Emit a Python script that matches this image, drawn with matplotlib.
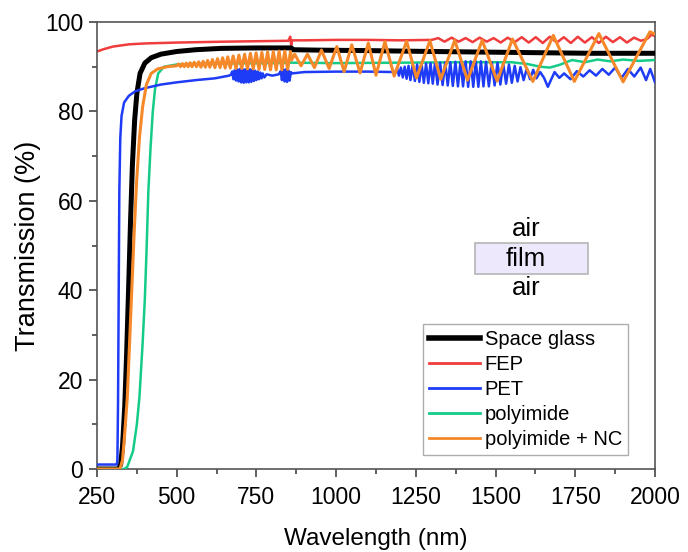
import matplotlib
matplotlib.use("Agg")
import matplotlib.pyplot as plt
from matplotlib.ticker import MultipleLocator
from matplotlib.patches import Rectangle
from matplotlib.lines import Line2D

plt.rcParams['font.family'] = ['Liberation Sans', 'DejaVu Sans']

# ---------------- data ----------------
glass_wl = [250, 318, 324, 330, 337, 343, 349, 355, 361, 368, 375, 385, 400, 420, 450, 500,
            560, 640, 750, 860, 862, 950, 1100, 1300, 1550, 1800, 2000]
glass_T = [0.0, 0.0, 1.0, 5.0, 14.0, 26.0, 40.0, 55.0, 68.0, 78.0, 84.0, 88.5, 90.8, 92.0,
           92.8, 93.4, 93.8, 94.1, 94.2, 94.2, 93.8, 93.7, 93.6, 93.4, 93.2, 93.0, 93.0]

fep_wl = [250, 270, 300, 350, 400, 500, 650, 850, 856, 859, 862, 900, 1000, 1100, 1200, 1300,
          1320, 1340, 1362, 1384, 1406, 1428, 1450, 1472, 1494, 1516, 1538, 1560, 1582, 1604,
          1626, 1648, 1670, 1692, 1714, 1736, 1758, 1780, 1802, 1824, 1846, 1868, 1890, 1912,
          1934, 1956, 1975, 1990, 2000]
fep_T = [93.4, 93.9, 94.5, 95.0, 95.2, 95.4, 95.6, 95.8, 96.7, 94.8, 95.9, 95.9, 96.0, 96.0,
         95.9, 96.0, 96.4, 95.6, 96.5, 95.6, 96.4, 95.5, 96.5, 95.6, 96.4, 95.4, 96.5, 95.5,
         96.6, 95.4, 96.6, 95.3, 96.7, 95.4, 96.6, 95.3, 96.7, 95.4, 96.6, 95.3, 96.7, 95.5,
         96.6, 95.4, 96.5, 95.8, 96.2, 97.2, 96.8]

pet_wl = [250, 312, 314, 316, 318, 320, 323, 327, 335, 350, 370, 400, 450, 500, 560, 620, 664,
          670, 674, 678, 682, 686, 690, 694, 698, 702, 706, 710, 714, 718, 722, 726, 730, 734,
          738, 742, 746, 750, 754, 758, 762, 766, 770, 775, 782, 800, 820, 826, 830, 834, 838,
          842, 846, 850, 854, 858, 862, 900, 1000, 1100, 1185,
          1191, 1197, 1203, 1209, 1215, 1221, 1227, 1233, 1240, 1247, 1254, 1261, 1268, 1275,
          1282, 1289, 1296, 1303, 1310, 1318, 1326, 1334, 1342, 1350, 1358, 1366, 1374, 1382,
          1390, 1398, 1406, 1414, 1422, 1430, 1438, 1446, 1454, 1462, 1470, 1479, 1488, 1497,
          1506, 1515, 1524, 1533, 1542, 1551, 1560, 1569, 1578, 1588, 1598, 1608, 1618, 1628,
          1640, 1652, 1664, 1685, 1700, 1715, 1735, 1755, 1775, 1795, 1815, 1835, 1855, 1875,
          1895, 1915, 1935, 1955, 1972, 1985, 2000]
pet_T = [1.0, 1.0, 2.0, 15.0, 40.0, 62.0, 74.0, 79.0, 82.0, 83.5, 84.5, 85.2, 86.0, 86.5,
         87.0, 87.4, 88.0,
         88.2, 88.9, 87.2, 89.2, 86.9, 89.4, 86.7, 89.5, 86.5, 89.5, 86.4, 89.4, 86.5, 89.3,
         86.5, 89.4, 86.6, 89.4, 86.8, 89.1, 87.0, 88.9, 87.2, 88.7, 87.4, 88.5, 87.6, 88.3,
         88.0, 88.3, 89.0, 87.0, 89.4, 86.7, 89.4, 86.6, 89.2, 86.9, 88.8, 88.5,
         88.8, 88.9, 88.9, 88.8,
         89.6, 88.0, 89.8, 87.6, 90.0, 87.3, 90.2, 87.0, 90.4, 86.8, 90.5, 86.6, 90.6, 86.4,
         90.7, 86.3, 90.8, 86.2, 90.8, 86.0, 90.9, 85.9, 91.0, 85.8, 91.0, 85.7, 91.1, 85.6,
         91.1, 85.6, 91.2, 85.5, 91.2, 85.5, 91.2, 85.5, 91.2, 85.6, 91.1, 85.6, 91.0, 85.8,
         90.9, 86.0, 90.7, 86.2, 90.5, 86.4, 90.2, 86.7, 89.9, 87.0, 89.6, 87.2, 89.3, 87.4,
         88.8, 87.5, 85.5, 88.8, 87.5, 88.5, 87.2, 89.0, 87.8, 89.2, 88.0, 89.5, 88.2, 89.8,
         87.5, 89.5, 87.8, 89.8, 87.0, 89.5, 86.5]

pi_wl = [250, 335, 345, 363, 375, 383, 393, 400, 405, 411, 418, 425, 432, 442, 460, 500, 600,
         800, 860, 1000, 1200, 1400, 1550, 1600, 1640, 1670, 1700, 1740, 1780, 1820, 1860,
         1900, 1950, 2000]
pi_T = [0.0, 0.0, 0.5, 4.0, 10.0, 16.0, 28.0, 38.0, 48.0, 62.0, 72.0, 80.0, 85.0, 88.5, 90.0,
        90.5, 90.7, 90.8, 90.9, 90.8, 90.9, 91.0, 91.0, 90.6, 90.0, 89.8, 90.4, 91.5, 91.0,
        91.6, 91.2, 91.6, 91.3, 91.5]

pinc_wl = [250, 322, 330, 337, 345, 352, 359, 366, 374, 383, 393, 405, 420, 440, 470, 500,
           506, 512, 518, 524, 530, 536, 542, 548, 555, 562, 569, 576, 583, 590, 597, 604, 612,
           620, 628, 636, 644, 652, 660, 668, 677, 686, 695, 704, 713, 722, 731, 740, 749, 758,
           767, 776, 785, 794, 803, 812, 821, 830, 839, 848, 857, 860,
           870, 890, 910, 932, 954, 978, 1002, 1025, 1049, 1075, 1101, 1125, 1153, 1182, 1221,
           1252, 1294, 1328, 1372, 1412, 1458, 1505, 1553, 1617, 1681, 1747, 1824, 1900, 1984,
           2000]
pinc_T = [0.0, 0.0, 2.0, 8.0, 16.0, 28.0, 40.0, 52.0, 64.0, 74.0, 81.0, 86.0, 88.5, 89.5,
          90.0, 90.2, 90.6, 90.0, 90.7, 90.0, 90.8, 90.0, 90.9, 90.0, 91.0, 90.0, 91.1, 89.9,
          91.2, 89.9, 91.4, 89.9, 91.6, 89.8, 91.8, 89.8, 92.0, 89.7, 92.2, 89.7, 92.4, 89.6,
          92.6, 89.6, 92.8, 89.5, 93.0, 89.5, 93.1, 89.4, 93.2, 89.4, 93.3, 89.3, 93.4, 89.3,
          93.5, 89.3, 93.5, 89.4, 93.4, 91.5,
          92.8, 90.2, 92.8, 89.8, 93.7, 89.6, 94.5, 88.9, 94.9, 88.6, 95.3, 88.1, 95.6, 87.9,
          95.7, 87.5, 95.8, 87.2, 95.9, 87.0, 95.9, 86.8, 96.2, 86.7, 97.0, 86.7, 97.4, 86.6,
          97.8, 97.3]

labels = ["Space glass", "FEP", "PET", "polyimide", "polyimide + NC"]
colors = ["#000000", "#f03c3c", "#1e3cf5", "#14cc88", "#f5892a"]

x_ticks = [250, 500, 750, 1000, 1250, 1500, 1750, 2000]
y_ticks = [0, 20, 40, 60, 80, 100]

# ---------------- figure ----------------
fig = plt.figure(figsize=(6.88, 5.52), dpi=100)
ax = fig.add_axes([97 / 688, 83 / 552, 558 / 688, 447 / 552])

ax.plot(fep_wl, fep_T, color=colors[1], lw=1.8, zorder=2)
ax.plot(glass_wl, glass_T, color=colors[0], lw=3.6, zorder=3)
ax.plot(pi_wl, pi_T, color=colors[3], lw=1.8, zorder=3)
ax.plot(pet_wl, pet_T, color=colors[2], lw=1.8, zorder=4)
ax.plot(pinc_wl, pinc_T, color=colors[4], lw=2.2, zorder=5, solid_joinstyle='round')

ax.set_xlim(250, 2000)
ax.set_ylim(0, 100)
ax.set_xticks(x_ticks)
ax.set_yticks(y_ticks)
ax.xaxis.set_minor_locator(MultipleLocator(125))
ax.yaxis.set_minor_locator(MultipleLocator(10))
ax.tick_params(which='both', direction='out', top=False, right=False,
               color='#444444', width=1.2, labelsize=16.5)
ax.tick_params(axis='x', which='both', pad=6)
ax.tick_params(axis='y', which='both', pad=4)
ax.tick_params(which='major', length=6)
ax.tick_params(which='minor', length=3.5)
for s in ax.spines.values():
    s.set_color('#555555')
    s.set_linewidth(1.2)

ax.set_xlabel("Wavelength (nm)", fontsize=17.5, labelpad=14)
ax.set_ylabel("Transmission (%)", fontsize=19.5, labelpad=3)

# legend
handles = [Line2D([], [], color=colors[0], lw=4.0)] + \
          [Line2D([], [], color=c, lw=2.0) for c in colors[1:]]
leg = ax.legend(handles, labels, loc='lower right', bbox_to_anchor=(0.952, 0.031),
                borderaxespad=0, fontsize=14.5, frameon=True, fancybox=False,
                handlelength=2.5, handletextpad=0.25, labelspacing=0.3,
                borderpad=0.3)
leg.get_frame().set_edgecolor('#999999')
leg.get_frame().set_linewidth(1.0)

# air / film / air annotation
ax.text(1595, 53.7, "air", ha='center', va='center', fontsize=18.5)
ax.add_patch(Rectangle((1435, 43.6), 355, 7.0, facecolor='#ede8fb', edgecolor='#b5b5b5',
                       lw=1.2, zorder=1))
ax.text(1595, 46.9, "film", ha='center', va='center', fontsize=18.5, zorder=2)
ax.text(1595, 40.4, "air", ha='center', va='center', fontsize=18.5)

fig.savefig("out.png", dpi=100)
